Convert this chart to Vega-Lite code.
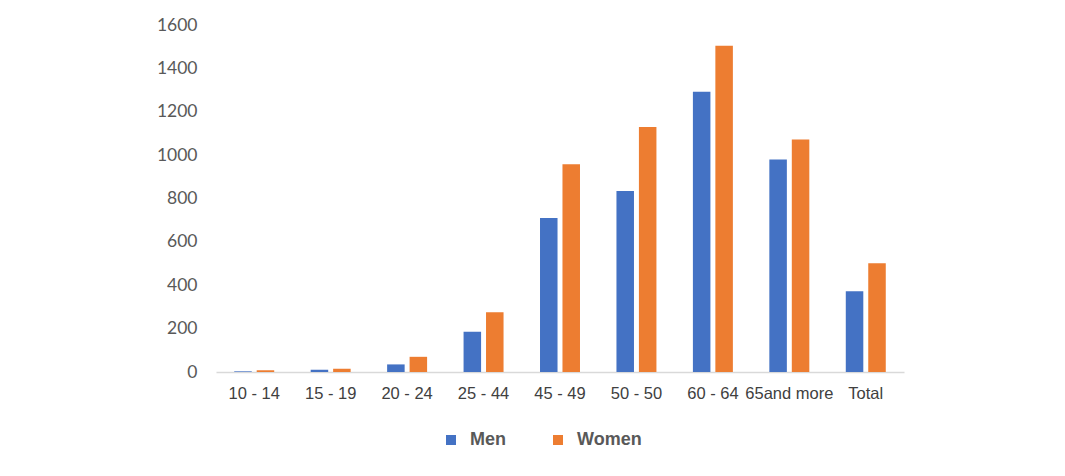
{
  "$schema": "https://vega.github.io/schema/vega-lite/v6.json",
  "width": 688,
  "height": 347,
  "autosize": {"type": "none"},
  "padding": {"left": 216, "top": 25, "right": 161, "bottom": 104},
  "background": "white",
  "config": {"view": {"stroke": null}},
  "data": {"values": [
    {"age": "10 - 14", "sex": "Men", "value": 3},
    {"age": "10 - 14", "sex": "Women", "value": 8},
    {"age": "15 - 19", "sex": "Men", "value": 10},
    {"age": "15 - 19", "sex": "Women", "value": 15},
    {"age": "20 - 24", "sex": "Men", "value": 35},
    {"age": "20 - 24", "sex": "Women", "value": 70},
    {"age": "25 - 44", "sex": "Men", "value": 186},
    {"age": "25 - 44", "sex": "Women", "value": 275},
    {"age": "45 - 49", "sex": "Men", "value": 710},
    {"age": "45 - 49", "sex": "Women", "value": 958},
    {"age": "50 - 50", "sex": "Men", "value": 835},
    {"age": "50 - 50", "sex": "Women", "value": 1130},
    {"age": "60 - 64", "sex": "Men", "value": 1292},
    {"age": "60 - 64", "sex": "Women", "value": 1504},
    {"age": "65and more", "sex": "Men", "value": 980},
    {"age": "65and more", "sex": "Women", "value": 1072},
    {"age": "Total", "sex": "Men", "value": 372},
    {"age": "Total", "sex": "Women", "value": 502}
  ]},
  "mark": {"type": "bar"},
  "encoding": {
    "x": {
      "field": "age", "type": "nominal", "sort": null,
      "scale": {"paddingInner": 0.477, "paddingOuter": 0.2385},
      "axis": {
        "title": null, "labelAngle": 0, "ticks": false,
        "domainColor": "#d9d9d9", "domainWidth": 1.5,
        "labelFont": "Liberation Sans", "labelFontSize": 16.5,
        "labelColor": "#404040", "labelPadding": 13
      }
    },
    "xOffset": {
      "field": "sex", "type": "nominal", "sort": ["Men", "Women"],
      "scale": {"paddingInner": 0.22, "paddingOuter": 0}
    },
    "y": {
      "field": "value", "type": "quantitative",
      "scale": {"domain": [0, 1600], "nice": false},
      "axis": {
        "title": null, "values": [0, 200, 400, 600, 800, 1000, 1200, 1400, 1600],
        "format": "d",
        "grid": false, "domain": false, "ticks": false,
        "labelFont": "Lato", "labelFontSize": 17.5, "labelColor": "#595959",
        "labelPadding": 19
      }
    },
    "color": {
      "field": "sex", "type": "nominal",
      "scale": {"domain": ["Men", "Women"], "range": ["#4472C4", "#ED7D31"]},
      "legend": {
        "title": null, "orient": "none", "direction": "horizontal",
        "legendX": 226, "legendY": 406,
        "symbolType": "square", "symbolSize": 100, "symbolStrokeWidth": 0,
        "labelFont": "Liberation Sans", "labelFontSize": 18, "labelFontWeight": "bold",
        "labelColor": "#595959", "labelOffset": 10,
        "gridAlign": "all", "columnPadding": 14
      }
    }
  }
}
